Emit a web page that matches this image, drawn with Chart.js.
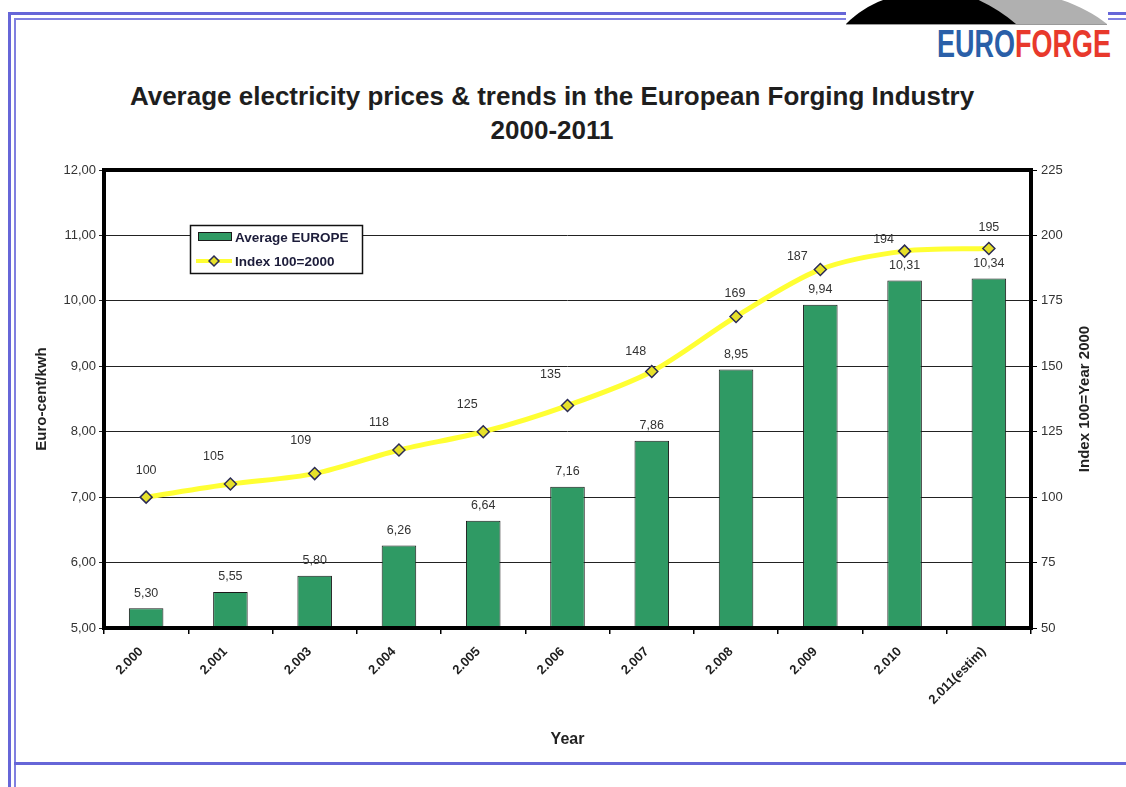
<!DOCTYPE html>
<html>
<head>
<meta charset="utf-8">
<title>Average electricity prices</title>
<script src="https://cdn.jsdelivr.net/npm/chart.js@4.4.1/dist/chart.umd.min.js"></script>
<style>
  body { margin: 0; background: #fff; font-family: "Liberation Sans", Arial, sans-serif; }
  #page { position: relative; width: 1126px; height: 787px; overflow: hidden; background: #fff; }
  .rule { position: absolute; background: #6666d8; }
  #logoText {
    position: absolute; left: 937px; top: 24px; white-space: nowrap;
    font-family: "Liberation Sans", Arial, sans-serif;
    font-weight: bold; font-size: 38px; line-height: 40px;
    transform: scaleX(0.71); transform-origin: left top;
  }
  #title {
    position: absolute; left: 0; top: 79px; width: 1104px; text-align: center;
    font-weight: bold; font-size: 26px; line-height: 34px; color: #1e1e1e;
  }
  #chartBox { position: absolute; left: 0; top: 0; width: 1126px; height: 787px; }
</style>
</head>
<body>
<div id="page">
  <!-- slide frame -->
  <div class="rule" style="left:8px; top:12px; width:838px; height:3px;"></div>
  <div class="rule" style="left:14px; top:18px; width:832px; height:2px; background:#8080e0;"></div>
  <div class="rule" style="left:1108px; top:12px; width:18px; height:3px;"></div>
  <div class="rule" style="left:1108px; top:18px; width:18px; height:2px; background:#8080e0;"></div>
  <div class="rule" style="left:8px; top:12px; width:3px; height:775px;"></div>
  <div class="rule" style="left:14px; top:18px; width:2px; height:769px; background:#8080e0;"></div>
  <div class="rule" style="left:14px; top:762px; width:1112px; height:3px;"></div>

  <!-- logo -->
  <svg style="position:absolute; left:0; top:0;" width="1126" height="30">
    <path d="M960 24 L1107 24 C1092 12 1072 2 1048 -4 L960 -4 Z" fill="#b0b0b0"/>
    <path d="M846 24 C862 8 882 -2 905 -6 L965 -6 C985 2 1002 12 1016 24 Z" fill="#000"/>
    <line x1="846" y1="24.5" x2="1107" y2="24.5" stroke="#9a9a9a" stroke-width="1"/>
  </svg>
  <div id="logoText"><span style="color:#2a5fa8;">EURO</span><span style="color:#e8392c;">FORGE</span></div>

  <div id="title">Average electricity prices &amp; trends in the European Forging Industry<br>2000-2011</div>

  <div id="chartBox"><canvas id="chart"></canvas></div>
</div>

<script>
// categories and series
const years = ['2.000', '2.001', '2.003', '2.004', '2.005', '2.006', '2.007', '2.008', '2.009', '2.010', '2.011(estim)'];
const avgEurope = [5.30, 5.55, 5.80, 6.26, 6.64, 7.16, 7.86, 8.95, 9.94, 10.31, 10.34];
const indexValues = [100, 105, 109, 118, 125, 135, 148, 169, 187, 194, 195];

// axis ranges: [min, max, step]
const priceAxis = [5, 12, 1];
const indexAxis = [50, 225, 25];

// hand-placed offsets of the index labels (dx, dy from the marker)
const indexLabelNudge = [
  [0, -27], [-17, -28], [-14, -33], [-20, -27], [-16, -27], [-17, -31],
  [-16, -20], [-1, -23], [-23, -13], [-21, -12], [0, -21]
];

const FONT = '"Liberation Sans", Arial, sans-serif';
const fmt = v => v.toFixed(2).replace('.', ',');

const decorations = {
  id: 'decorations',
  afterDatasetsDraw(chart) {
    const { ctx, chartArea: a } = chart;
    ctx.save();
    // heavy plot frame
    ctx.strokeStyle = '#000';
    ctx.lineWidth = 4;
    ctx.strokeRect(a.left, a.top, a.right - a.left, a.bottom - a.top);

    ctx.font = '12.5px ' + FONT;
    ctx.fillStyle = '#333';
    ctx.textAlign = 'center';
    ctx.textBaseline = 'middle';
    chart.getDatasetMeta(0).data.forEach((bar, i) => {
      ctx.fillText(fmt(avgEurope[i]), bar.x, bar.y - 15);
    });
    chart.getDatasetMeta(1).data.forEach((pt, i) => {
      const [dx, dy] = indexLabelNudge[i];
      ctx.fillText(String(indexValues[i]), pt.x + dx, pt.y + dy);
    });
    ctx.restore();
  },
  afterDraw(chart) {
    const { ctx, chartArea: a } = chart;
    ctx.save();

    // legend box
    const lx = a.left + 86, ly = a.top + 55;
    ctx.fillStyle = '#fff';
    ctx.fillRect(lx, ly, 172, 48);
    ctx.strokeStyle = '#111';
    ctx.lineWidth = 1.5;
    ctx.strokeRect(lx + 0.5, ly + 0.5, 172, 48);

    ctx.fillStyle = '#2f9a64';
    ctx.fillRect(lx + 8, ly + 7, 34, 9);
    ctx.strokeStyle = '#1a1a1a';
    ctx.lineWidth = 1;
    ctx.strokeRect(lx + 8.5, ly + 7.5, 33, 8);

    ctx.strokeStyle = '#ffff33';
    ctx.lineWidth = 4;
    ctx.beginPath();
    ctx.moveTo(lx + 6, ly + 36);
    ctx.lineTo(lx + 42, ly + 36);
    ctx.stroke();
    ctx.fillStyle = '#e6e02a';
    ctx.strokeStyle = '#2b2b55';
    ctx.lineWidth = 1.5;
    ctx.beginPath();
    ctx.moveTo(lx + 24, ly + 31);
    ctx.lineTo(lx + 29, ly + 36);
    ctx.lineTo(lx + 24, ly + 41);
    ctx.lineTo(lx + 19, ly + 36);
    ctx.closePath();
    ctx.fill();
    ctx.stroke();

    ctx.fillStyle = '#1c1c3a';
    ctx.font = 'bold 13.5px ' + FONT;
    ctx.textAlign = 'left';
    ctx.textBaseline = 'middle';
    ctx.fillText('Average EUROPE', lx + 45, ly + 13);
    ctx.fillText('Index 100=2000', lx + 45, ly + 37);

    // right axis title, reading upwards like the left one
    ctx.fillStyle = '#222';
    ctx.font = 'bold 15px ' + FONT;
    ctx.textAlign = 'center';
    ctx.translate(1085, (a.top + a.bottom) / 2);
    ctx.rotate(-Math.PI / 2);
    ctx.fillText('Index 100=Year 2000', 0, 0);
    ctx.restore();
  }
};

new Chart(document.getElementById('chart'), {
  data: {
    labels: years,
    datasets: [
      {
        type: 'bar',
        label: 'Average EUROPE',
        data: avgEurope,
        yAxisID: 'y',
        backgroundColor: '#2f9a64',
        borderColor: '#1a1a1a',
        borderWidth: 1,
        categoryPercentage: 1,
        barPercentage: 0.41,
        order: 2
      },
      {
        type: 'line',
        label: 'Index 100=2000',
        data: indexValues,
        yAxisID: 'y1',
        borderColor: '#ffff33',
        borderWidth: 5,
        tension: 0.3,
        pointStyle: 'rectRot',
        pointRadius: 6,
        pointBackgroundColor: '#e6e02a',
        pointBorderColor: '#2b2b55',
        pointBorderWidth: 1.5,
        order: 1
      }
    ]
  },
  options: {
    responsive: true,
    maintainAspectRatio: false,
    animation: false,
    layout: { padding: { left: 20, top: 170, right: 20, bottom: 30 } },
    plugins: {
      legend: { display: false },
      tooltip: { enabled: false }
    },
    scales: {
      x: {
        offset: true,
        afterFit: s => { s.height = 129; },
        grid: { offset: true, drawOnChartArea: false, drawTicks: true, tickLength: 6, color: '#000', lineWidth: 1.5 },
        border: { display: false },
        ticks: {
          minRotation: 45, maxRotation: 45, padding: 10, labelOffset: -5,
          color: '#1e1e1e', font: { family: FONT, size: 13, weight: 'bold' }
        },
        title: {
          display: true, text: 'Year', color: '#222',
          font: { family: FONT, size: 16, weight: 'bold' },
          padding: { top: 0, bottom: 8 }
        }
      },
      y: {
        position: 'left',
        min: priceAxis[0], max: priceAxis[1],
        afterFit: s => { s.width = 84; },
        grid: { color: '#222', lineWidth: 1, tickLength: 5, drawTicks: true },
        border: { display: false },
        ticks: {
          stepSize: priceAxis[2], padding: 3, color: '#333',
          font: { family: FONT, size: 13 },
          callback: v => fmt(v)
        },
        title: {
          display: true, text: 'Euro-cent/kwh', color: '#222',
          font: { family: FONT, size: 15, weight: 'bold' },
          padding: { top: 13, bottom: 0 }
        }
      },
      y1: {
        position: 'right',
        min: indexAxis[0], max: indexAxis[1],
        afterFit: s => { s.width = 75; },
        grid: { drawOnChartArea: false, color: '#000', lineWidth: 1, tickLength: 6 },
        border: { display: false },
        ticks: {
          stepSize: indexAxis[2], padding: 4, color: '#333',
          font: { family: FONT, size: 13 }
        }
      }
    }
  },
  plugins: [decorations]
});
</script>
</body>
</html>
